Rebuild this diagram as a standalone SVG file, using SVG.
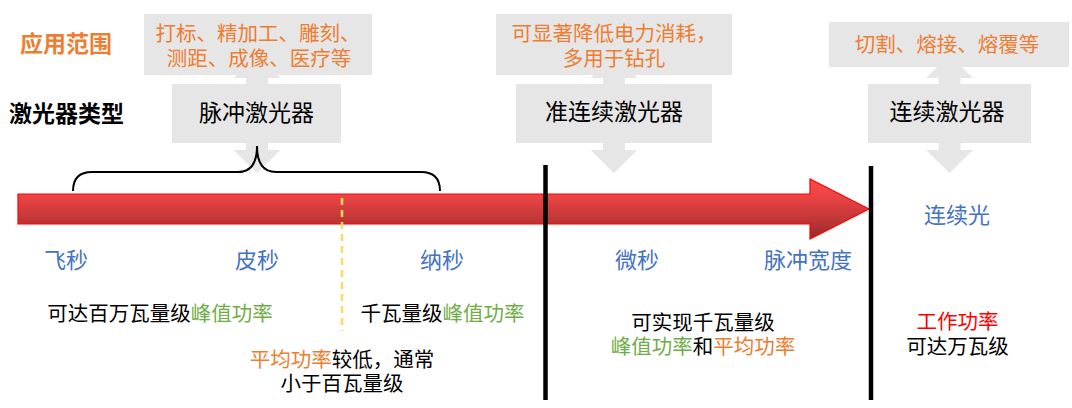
<svg xmlns="http://www.w3.org/2000/svg" xmlns:xlink="http://www.w3.org/1999/xlink" width="1072" height="408" viewBox="0 0 1072 408">
  <style>
    text { font-family: "Noto Sans CJK SC", "Noto Sans", sans-serif; text-anchor: middle; dominant-baseline: central; }
    .box { fill: #E6E6E6; }
    .app { font-size: 20.5px; fill: #ED7D31; }
    .type { font-size: 23px; fill: #000000; }
    .head { font-size: 23px; font-weight: bold; }
    .lbl { font-size: 22px; fill: #4472C4; }
    .body { font-size: 20.5px; fill: #000000; }
    .g { fill: #70AD47; }
    .o { fill: #ED7D31; }
    .r { fill: #FF0000; }
    .vline { stroke: #000000; stroke-width: 4.5; }
  </style>
  <defs>
    <linearGradient id="redGrad" x1="0" y1="0" x2="0" y2="1">
      <stop offset="0" stop-color="#F84C4C"/>
      <stop offset="0.25" stop-color="#F04545"/>
      <stop offset="0.75" stop-color="#B83434"/>
      <stop offset="1" stop-color="#962727"/>
    </linearGradient>
    <path id="udArrow" class="box" d="M0,55 L23.5,78 L11,78 L11,150 L23.5,150 L0,173 L-23.5,150 L-11,150 L-11,78 L-23.5,78 Z"/>
  </defs>

  <rect width="1072" height="408" fill="#FFFFFF"/>

  <g id="connectors">
    <use xlink:href="#udArrow" href="#udArrow" x="257" y="0"/>
    <use xlink:href="#udArrow" href="#udArrow" x="614" y="0"/>
    <use xlink:href="#udArrow" href="#udArrow" x="949.5" y="0"/>
  </g>

  <g id="header-labels">
    <text class="head" x="66" y="42" fill="#ED7D31" font-size="22.5">应用范围</text>
    <text class="head" x="66.5" y="112" fill="#000000">激光器类型</text>
  </g>

  <g id="app-pulse">
    <rect class="box" x="144" y="14" width="228" height="61"/>
    <text class="app" x="258" y="32">打标、精加工、雕刻、</text>
    <text class="app" x="259" y="57">测距、成像、医疗等</text>
  </g>
  <g id="type-pulse">
    <rect class="box" x="172" y="84" width="169" height="59"/>
    <text class="type" x="256.5" y="111">脉冲激光器</text>
  </g>

  <g id="app-qcw">
    <rect class="box" x="496" y="14" width="236" height="61"/>
    <text class="app" x="614" y="32">可显著降低电力消耗，</text>
    <text class="app" x="614" y="57">多用于钻孔</text>
  </g>
  <g id="type-qcw">
    <rect class="box" x="516" y="84" width="196" height="59"/>
    <text class="type" x="614" y="110">准连续激光器</text>
  </g>

  <g id="app-cw">
    <rect class="box" x="829" y="22" width="240" height="45"/>
    <text class="app" x="947" y="43">切割、熔接、熔覆等</text>
  </g>
  <g id="type-cw">
    <rect class="box" x="868" y="84" width="163" height="59"/>
    <text class="type" x="947" y="110">连续激光器</text>
  </g>

  <g id="brace">
    <path d="M73,191 Q73,172 92,172 L238,172 Q257,172 257,146 Q257,172 276,172 L421,172 Q440,172 440,191" fill="none" stroke="#000000" stroke-width="2"/>
  </g>

  <g id="timeline-arrow">
    <polygon points="18,194 810,194 810,179 869,209 810,239 810,224 18,224" fill="url(#redGrad)" stroke="#FF0000" stroke-width="1.2"/>
  </g>

  <g id="dividers">
    <line class="vline" x1="545.5" y1="165" x2="545.5" y2="400"/>
    <line class="vline" x1="871" y1="166" x2="871" y2="400"/>
    <line x1="342" y1="198" x2="342" y2="331" stroke="#FFD966" stroke-width="2.5" stroke-dasharray="7 5"/>
  </g>

  <g id="pulse-width-labels">
    <text class="lbl" x="66" y="258">飞秒</text>
    <text class="lbl" x="257" y="258">皮秒</text>
    <text class="lbl" x="442" y="258">纳秒</text>
    <text class="lbl" x="637" y="258">微秒</text>
    <text class="lbl" x="808" y="258">脉冲宽度</text>
    <text class="lbl" x="957" y="213">连续光</text>
  </g>

  <g id="femto-power">
    <text class="body" x="160" y="312">可达百万瓦量级<tspan class="g">峰值功率</tspan></text>
  </g>
  <g id="nano-power">
    <text class="body" x="442.5" y="312">千瓦量级<tspan class="g">峰值功率</tspan></text>
  </g>
  <g id="avg-power-note">
    <text class="body" x="342" y="358"><tspan class="o">平均功率</tspan>较低，通常</text>
    <text class="body" x="342" y="382">小于百瓦量级</text>
  </g>
  <g id="qcw-power">
    <text class="body" x="703" y="321">可实现千瓦量级</text>
    <text class="body" x="703" y="345"><tspan class="g">峰值功率</tspan>和<tspan class="o">平均功率</tspan></text>
  </g>
  <g id="cw-power">
    <text class="body r" x="957.5" y="320">工作功率</text>
    <text class="body" x="957.5" y="345">可达万瓦级</text>
  </g>
</svg>
